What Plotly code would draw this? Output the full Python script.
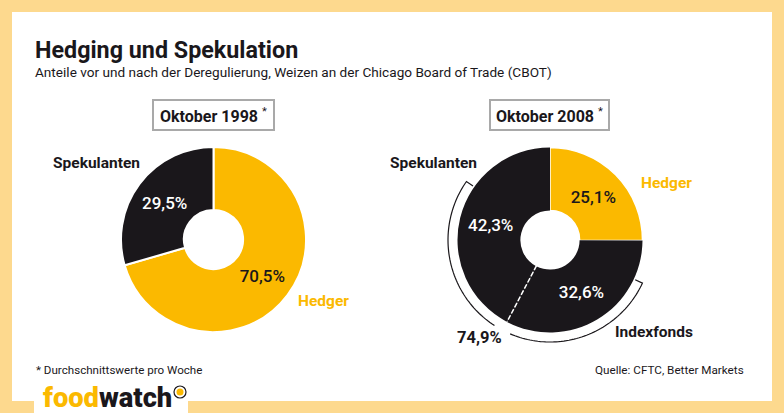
import math
import plotly.graph_objects as go

W, H = 784, 413
YELLOW = '#FBB900'
BLACK = '#1A171B'
BAND = '#FDD98E'

labels_1998 = ['Hedger', 'Spekulanten']
values_1998 = [70.5, 29.5]
labels_2008 = ['Hedger', 'Indexfonds', 'Spekulanten']
values_2008 = [25.1, 32.6, 42.3]
total_speculators = '74,9%'


def px(x, y):
    # pixel position -> paper coordinates
    return x / W, 1 - y / H


def polar(cx, cy, r, deg):
    # deg runs clockwise from 12 o'clock, same as the pies
    a = math.radians(deg)
    return cx + r * math.sin(a), cy - r * math.cos(a)


def arc_path(cx, cy, r, start, end, tick_r=None, tick_at_start=False, tick_at_end=False):
    pts = [polar(cx, cy, r, start + (end - start) * i / 60) for i in range(61)]
    if tick_at_start:
        pts.insert(0, polar(cx, cy, tick_r, start))
    if tick_at_end:
        pts.append(polar(cx, cy, tick_r, end))
    pts = [px(*p) for p in pts]
    return 'M' + ' L'.join(f'{x:.5f},{y:.5f}' for x, y in pts)


def pct(v):
    return f'{v:.1f}'.replace('.', ',') + '%'


def donut(labels, values, cx, cy, r, colors, textcolors, line_w):
    return go.Pie(
        labels=labels, values=values, sort=False, direction='clockwise', rotation=0,
        hole=0.32, text=[pct(v) for v in values], textinfo='text',
        textposition='inside', insidetextorientation='horizontal',
        insidetextfont=dict(family='Roboto', size=17, color=textcolors, weight=500),
        marker=dict(colors=colors, line=dict(color='white', width=line_w)),
        domain=dict(x=[(cx - r) / W, (cx + r) / W], y=[1 - (cy + r) / H, 1 - (cy - r) / H]),
        showlegend=False, hoverinfo='label+value',
    )


cx1, cy1, cx2, cy2, R = 213.5, 239.5, 550, 240, 92.5

fig = go.Figure()
fig.add_trace(donut(labels_1998, values_1998, cx1, cy1, R, [YELLOW, BLACK], [BLACK, 'white'], [2, 2]))
fig.add_trace(donut(labels_2008, values_2008, cx2, cy2, R, [YELLOW, BLACK, BLACK], [BLACK, 'white', 'white'], [1.5, 0, 0]))

shapes = [
    dict(type='rect', xref='paper', yref='paper', x0=12 / W, x1=772 / W, y0=1 - 401 / H, y1=1 - 12 / H,
         fillcolor='white', line_width=0, layer='below'),
    dict(type='rect', xref='paper', yref='paper', x0=34 / W, x1=188 / W, y0=0, y1=1 - 400 / H,
         fillcolor='white', line_width=0, layer='below'),
]
# header boxes
for x0, x1 in [(153, 274), (490, 609)]:
    shapes.append(dict(type='rect', xref='paper', yref='paper', x0=x0 / W, x1=x1 / W,
                       y0=1 - 130 / H, y1=1 - 100 / H, fillcolor='white',
                       line=dict(color='#A9A9A9', width=2), layer='below'))

# dashed split between index funds and the other speculators
split = (values_2008[0] + values_2008[1]) * 3.6
x_a, y_a = px(*polar(cx2, cy2, 29, split))
x_b, y_b = px(*polar(cx2, cy2, R, split))
shapes.append(dict(type='line', xref='paper', yref='paper', x0=x_a, y0=y_a, x1=x_b, y1=y_b,
                   line=dict(color='white', width=1.5, dash='5px,2px')))

# bracket around both speculator slices, open where the 74,9% label sits
shapes.append(dict(type='path', xref='paper', yref='paper', line=dict(color=BLACK, width=1.2),
                   path=arc_path(cx2, cy2, 102, 115, 203, 94, tick_at_start=True)))
shapes.append(dict(type='path', xref='paper', yref='paper', line=dict(color=BLACK, width=1.2),
                   path=arc_path(cx2, cy2, 102, 213, 305, 94, tick_at_end=True)))

# logo badge
shapes.append(dict(type='circle', xref='paper', yref='paper', x0=174 / W, x1=186 / W,
                   y0=1 - 398 / H, y1=1 - 386 / H, fillcolor='white', line=dict(color=BLACK, width=1.2)))
shapes.append(dict(type='circle', xref='paper', yref='paper', x0=176.5 / W, x1=183.5 / W,
                   y0=1 - 395.5 / H, y1=1 - 388.5 / H, fillcolor=YELLOW, line_width=0))

annotations = []


def label(text, x, y, size, color=BLACK, anchor='left', weight=None):
    ax, ay = px(x, y)
    annotations.append(dict(text=text, x=ax, y=ay, xref='paper', yref='paper', showarrow=False,
                            xanchor=anchor, yanchor='middle', align=anchor,
                            borderpad=0, borderwidth=0,
                            font=dict(family='Roboto', size=size, color=color, weight=weight)))


label('<b>Hedging und Spekulation</b>', 35, 50, 23.3)
label('Anteile vor und nach der Deregulierung, Weizen an der Chicago Board of Trade (CBOT)', 35, 72.5, 13.6)
label('<b>Oktober 1998</b> <sup>*</sup>', 213.5, 115, 16, anchor='center')
label('<b>Oktober 2008</b> <sup>*</sup>', 549.5, 115, 16, anchor='center')
label('<b>Spekulanten</b>', 53, 163, 15.5)
label('<b>Hedger</b>', 298, 301, 15.5, YELLOW)
label('<b>Spekulanten</b>', 390, 163, 15.5)
label('<b>Hedger</b>', 641, 183, 15.5, YELLOW)
label('<b>Indexfonds</b>', 615, 332, 15.5)
label(f'<b>{total_speculators}</b>', 457, 337, 16.5)
label('* Durchschnittswerte pro Woche', 36, 370, 11.6)
label('Quelle: CFTC, Better Markets', 744, 370, 11.7, anchor='right')
label(f'<span style="color:{YELLOW}">food</span>watch', 43, 398, 27.3, weight=900)

fig.update_layout(
    width=W, height=H, autosize=False,
    margin=dict(l=0, r=0, t=0, b=0),
    paper_bgcolor=BAND, plot_bgcolor=BAND,
    shapes=shapes, annotations=annotations,
)

fig.write_html('out.html', config={'displayModeBar': False},
               post_script="document.body.style.margin='0';")
